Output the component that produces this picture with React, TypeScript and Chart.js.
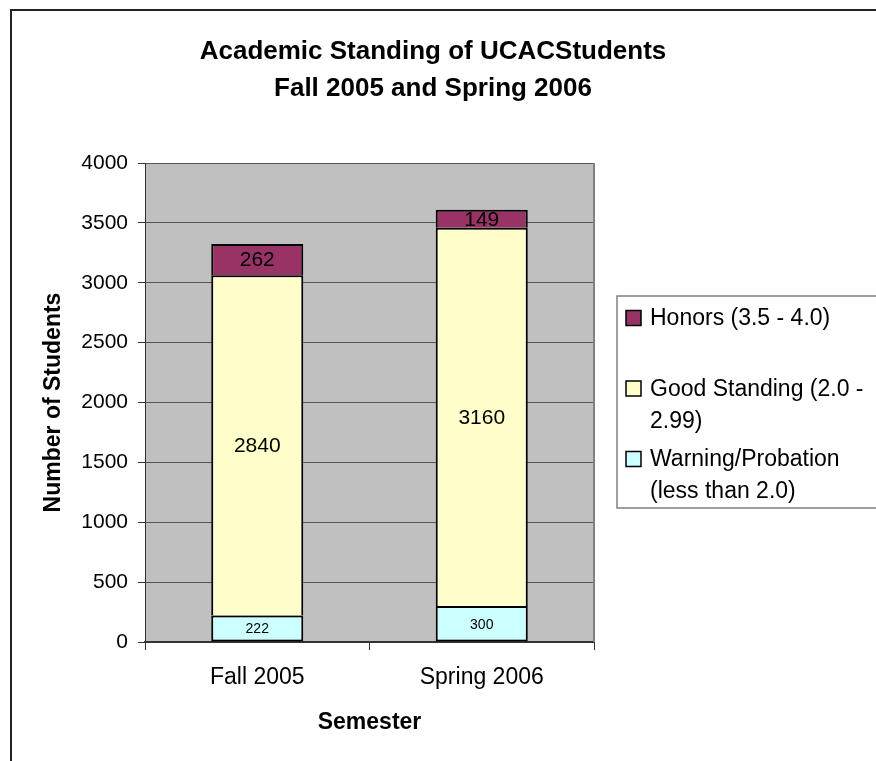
import React, { useEffect, useRef } from 'react';
import { Chart, registerables } from 'chart.js';

Chart.register(...registerables);

const FONT = '"Liberation Sans", Arial, Helvetica, sans-serif';

const categories = ['Fall 2005', 'Spring 2006'];
const warningValues = [222, 300];
const goodValues = [2840, 3160];
const honorsValues = [262, 149];
const seriesNames = [
  'Warning/Probation (less than 2.0)',
  'Good Standing (2.0 - 2.99)',
  'Honors (3.5 - 4.0)',
];
const seriesColors = ['#CCFFFF', '#FFFFCC', '#993366'];
const labelSizes = [14, 21, 21];
const titleLines = ['Academic Standing of UCACStudents', 'Fall 2005 and Spring 2006'];
const yAxisTitle = 'Number of Students';
const xAxisTitle = 'Semester';
const yMin = 0;
const yMax = 4000;
const yStep = 500;

const W = 876;
const H = 761;

const backgroundPlugin = {
  id: 'bgFrame',
  beforeDraw(chart: any) {
    const { ctx, chartArea } = chart;
    ctx.save();
    ctx.fillStyle = '#ffffff';
    ctx.fillRect(0, 0, chart.width, chart.height);
    ctx.strokeStyle = '#222222';
    ctx.lineWidth = 2;
    ctx.strokeRect(11, 10, chart.width + 40, chart.height + 40);
    ctx.fillStyle = '#C0C0C0';
    ctx.fillRect(chartArea.left, chartArea.top, chartArea.right - chartArea.left, chartArea.bottom - chartArea.top);
    // title
    ctx.fillStyle = '#000000';
    ctx.font = `bold 26px ${FONT}`;
    ctx.textAlign = 'center';
    ctx.textBaseline = 'alphabetic';
    ctx.fillText(titleLines[0], 433, 59);
    ctx.fillText(titleLines[1], 433, 96);
    ctx.restore();
  },
  beforeDatasetsDraw(chart: any) {
    const { ctx, chartArea } = chart;
    ctx.save();
    ctx.strokeStyle = '#808080';
    ctx.lineWidth = 2;
    ctx.beginPath();
    ctx.moveTo(chartArea.right, chartArea.top);
    ctx.lineTo(chartArea.right, chartArea.bottom);
    ctx.stroke();
    ctx.restore();
  },
};

const dataLabelPlugin = {
  id: 'dataLabels',
  afterDatasetsDraw(chart: any) {
    const { ctx } = chart;
    ctx.save();
    ctx.fillStyle = '#000000';
    ctx.textAlign = 'center';
    ctx.textBaseline = 'middle';
    chart.data.datasets.forEach((ds: any, di: number) => {
      const meta = chart.getDatasetMeta(di);
      ctx.font = `${labelSizes[di]}px ${FONT}`;
      meta.data.forEach((el: any, i: number) => {
        const y = (el.y + el.base) / 2;
        ctx.fillText(String(ds.data[i]), el.x, y + 1);
      });
    });
    ctx.restore();
  },
};

function wrapText(ctx: CanvasRenderingContext2D, text: string, maxWidth: number): string[] {
  const words = text.split(' ');
  const lines: string[] = [];
  let cur = '';
  for (const w of words) {
    const test = cur ? cur + ' ' + w : w;
    if (cur && ctx.measureText(test).width > maxWidth) {
      lines.push(cur);
      cur = w;
    } else {
      cur = test;
    }
  }
  if (cur) lines.push(cur);
  return lines;
}

const legendPlugin = {
  id: 'customLegend',
  afterDraw(chart: any) {
    const { ctx } = chart;
    const boxLeft = 617;
    const boxTop = 296;
    const boxBottom = 508;
    ctx.save();
    ctx.fillStyle = '#ffffff';
    ctx.fillRect(boxLeft, boxTop, chart.width - boxLeft + 20, boxBottom - boxTop);
    ctx.strokeStyle = '#808080';
    ctx.lineWidth = 1.5;
    ctx.strokeRect(boxLeft, boxTop, chart.width - boxLeft + 20, boxBottom - boxTop);
    ctx.font = `23px ${FONT}`;
    ctx.textAlign = 'left';
    ctx.textBaseline = 'middle';
    const n = chart.data.datasets.length;
    for (let k = 0; k < n; k++) {
      const di = n - 1 - k;
      const ds = chart.data.datasets[di];
      const yc = 318 + k * 70.5;
      ctx.fillStyle = ds.backgroundColor;
      ctx.fillRect(626, yc - 7.5, 15, 15);
      ctx.strokeStyle = '#000000';
      ctx.lineWidth = 1.5;
      ctx.strokeRect(626, yc - 7.5, 15, 15);
      ctx.fillStyle = '#000000';
      const lines = wrapText(ctx, ds.label, 222);
      lines.forEach((ln, li) => {
        ctx.fillText(ln, 650, yc + 1 + li * 32);
      });
    }
    ctx.restore();
  },
};

export default function App() {
  const canvasRef = useRef<HTMLCanvasElement | null>(null);

  useEffect(() => {
    const canvas = canvasRef.current;
    if (!canvas) return;
    const valueSets = [warningValues, goodValues, honorsValues];
    const chart = new Chart(canvas, {
      type: 'bar',
      data: {
        labels: categories,
        datasets: valueSets.map((vals, i) => ({
          label: seriesNames[i],
          data: vals,
          backgroundColor: seriesColors[i],
          borderColor: '#000000',
          borderWidth: 2,
          borderSkipped: i === 0 ? false : 'start',
          barPercentage: 0.41,
          categoryPercentage: 1,
        })),
      },
      options: {
        responsive: false,
        animation: false,
        devicePixelRatio: 1,
        layout: { padding: { top: 163, right: 282, bottom: 0, left: 0 } },
        plugins: {
          legend: { display: false },
          title: { display: false },
          tooltip: { enabled: false },
        },
        scales: {
          x: {
            stacked: true,
            grid: {
              display: true,
              drawOnChartArea: false,
              drawTicks: true,
              tickLength: 8,
              color: '#333333',
              offset: true,
              lineWidth: 1,
            },
            border: { display: true, color: '#333333', width: 2 },
            ticks: { font: { family: FONT, size: 23 }, color: '#000000', padding: 14 },
            title: {
              display: true,
              text: xAxisTitle,
              color: '#000000',
              font: { family: FONT, size: 23, weight: 'bold' },
              padding: { top: 0, bottom: 25 },
            },
            afterFit: (s: any) => {
              s.height = 119;
            },
          },
          y: {
            stacked: true,
            min: yMin,
            max: yMax,
            ticks: {
              stepSize: yStep,
              font: { family: FONT, size: 21 },
              color: '#000000',
              padding: 10,
              callback: (v: any) => String(v),
            },
            grid: { color: '#555555', tickColor: '#333333', tickLength: 7, lineWidth: 1 },
            border: { display: true, color: '#333333', width: 1 },
            title: {
              display: true,
              text: yAxisTitle,
              color: '#000000',
              font: { family: FONT, size: 23, weight: 'bold' },
              padding: { top: 40, bottom: 0 },
            },
            afterFit: (s: any) => {
              s.width = 145;
            },
          },
        },
      } as any,
      plugins: [backgroundPlugin, dataLabelPlugin, legendPlugin],
    });
    return () => {
      chart.destroy();
    };
  }, []);

  return (
    <div style={{ position: 'absolute', left: 0, top: 0, width: W, height: H, overflow: 'hidden' }}>
      <canvas ref={canvasRef} width={W} height={H} style={{ display: 'block', width: W, height: H }} />
    </div>
  );
}
